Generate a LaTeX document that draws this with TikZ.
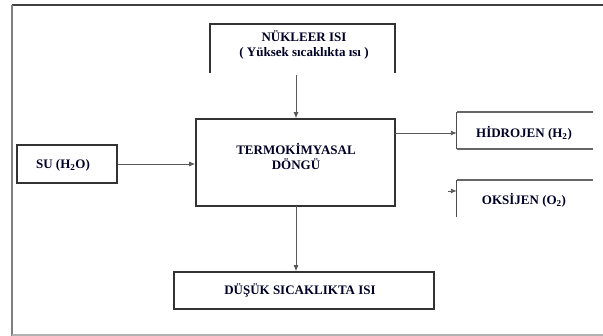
\documentclass[tikz,border=0pt]{standalone}
\usepackage{fontspec}
\setmainfont{Liberation Serif}
\usetikzlibrary{arrows.meta,calc}
\begin{document}
\begin{tikzpicture}[x=1pt,y=-1pt,
  lbl/.style={font=\bfseries\fontsize{13}{15}\selectfont, text=black!85!blue, align=center, inner sep=0pt},
  boxline/.style={draw=black!80, line width=1.6pt},
  thinline/.style={draw=black!70, line width=0.9pt},
  topline/.style={draw=black!60, line width=2.2pt},
  conn/.style={draw=black!65, line width=0.9pt, -{Latex[length=6pt,width=5pt]}},
  ]
\useasboundingbox (0,0) rectangle (603,336);
% outer frame
\draw[draw=black!75, line width=1.8pt] (603,5) -- (12,5);
\draw[draw=black!50, line width=1.6pt] (12,5) -- (12,336);
\draw[draw=black!30, line width=1.2pt] (12,335) -- (603,335);

% nuclear heat (open bottom)
\node[minimum width=185pt, minimum height=49pt, inner sep=0pt] (nuk) at (302.5,48.5) {};
\draw[boxline] (nuk.south west) -- (nuk.north west) -- (nuk.north east) -- (nuk.south east);
\node[lbl] (nukt) at (304,45) {NÜKLEER ISI\\( Yüksek sıcaklıkta ısı )};

% main box
\node[boxline, minimum width=199pt, minimum height=87pt, inner sep=0pt] (main) at (295.5,162.5) {};
\node[lbl] (maint) at (296,156) {TERMOKİMYASAL\\DÖNGÜ};

% water
\node[boxline, minimum width=100pt, minimum height=38pt, inner sep=0pt] (su) at (67,164) {};
\node[lbl] (sut) at (63,165) {SU (H\textsubscript{2}O)};

% hydrogen (open right)
\node[minimum width=136pt, minimum height=37pt, inner sep=0pt] (hyd) at (525,130.5) {};
\draw[topline] (hyd.north east) -- (hyd.north west);
\draw[topline] (hyd.south west) -- (hyd.south east);
\draw[thinline] (hyd.north west) -- (hyd.south west);
\node[lbl] (hydt) at (524,133) {HİDROJEN (H\textsubscript{2})};

% oxygen (open right and bottom)
\node[minimum width=136pt, minimum height=37pt, inner sep=0pt] (oks) at (525,198.5) {};
\draw[topline] (oks.north east) -- (oks.north west);
\draw[thinline] (oks.north west) -- (oks.south west);
\node[lbl] (okst) at (524,200) {OKSİJEN (O\textsubscript{2})};

% low temperature heat
\node[boxline, minimum width=260pt, minimum height=37pt, inner sep=0pt] (dus) at (304,290.5) {};
\node[lbl] (dust) at (300,290) {DÜŞÜK SICAKLIKTA ISI};

% connectors
\coordinate (nstart) at (296,75);
\draw[conn] (nstart) -- (nstart |- main.north);
\draw[conn] (su.east) -- (su.east -| main.west);
\coordinate (hstart) at (395,133);
\draw[conn] (hstart) -- (hstart -| hyd.west);
\coordinate (ostart) at (448,191);
\draw[conn] (ostart) -- (ostart -| oks.west);
\coordinate (dstart) at (296,206);
\draw[conn] (dstart) -- (dstart |- dus.north);
\end{tikzpicture}
\end{document}
